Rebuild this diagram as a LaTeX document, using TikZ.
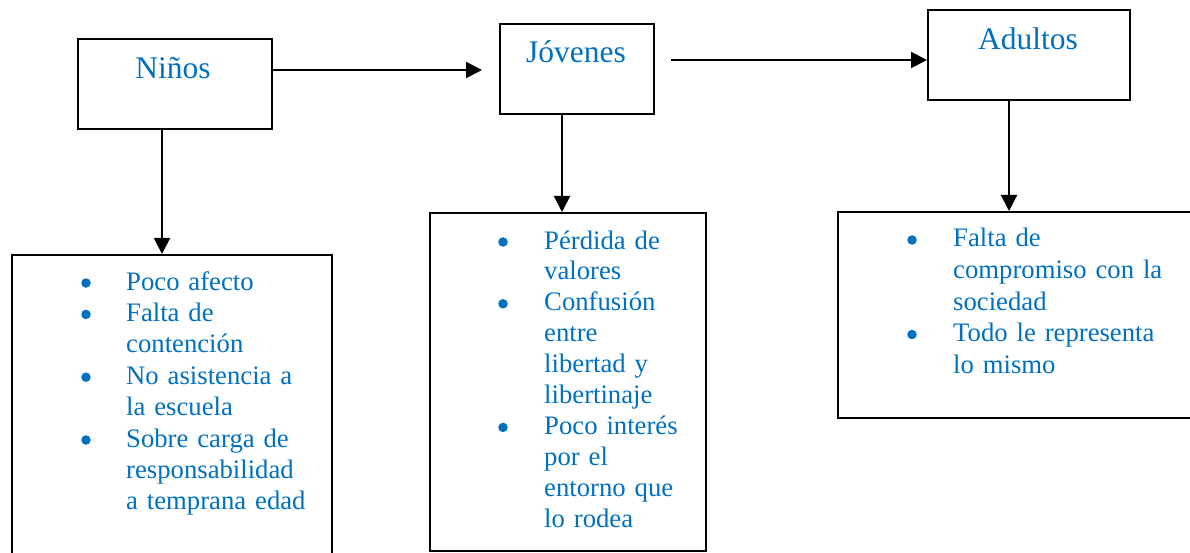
\documentclass[tikz,border=0pt]{standalone}
\usepackage{fontspec}
\setmainfont{Liberation Serif}
\usetikzlibrary{arrows.meta}
\definecolor{wordblue}{HTML}{0070C0}
\begin{document}
\begin{tikzpicture}[x=1pt,y=-1pt,
  box/.style={draw=black,line width=2pt,inner sep=0pt,anchor=north west},
  head/.style={text=wordblue,inner sep=0pt,anchor=base,font=\fontsize{31.5}{36}\selectfont},
  itemtxt/.style={text=wordblue,inner sep=0pt,anchor=base west,text width=230pt,align=left},
  bul/.style={circle,fill=wordblue,inner sep=0pt,minimum size=9.5pt},
  conn/.style={line width=2pt,-{Triangle[length=16pt,width=16pt]}}]
\useasboundingbox (0,0) rectangle (1190,553);
\clip (0,0) rectangle (1190,553);
\fill[white] (0,0) rectangle (1190,553);

% heading boxes
\node[box,minimum width=194pt,minimum height=90pt] (ninos) at (77,38) {};
\node[box,minimum width=154pt,minimum height=90pt] (jovenes) at (499,23) {};
\node[box,minimum width=202pt,minimum height=90pt] (adultos) at (927,9) {};
\node[head] (tninos) at (173,79) {Niños};
\node[head] (tjovenes) at (576,63) {Jóvenes};
\node[head] (tadultos) at (1028,50) {Adultos};

% list boxes
\node[box,minimum width=320pt,minimum height=330pt] (lbox) at (11,254) {};
\node[box,minimum width=276pt,minimum height=338pt] (mbox) at (429,212) {};
\node[box,minimum width=370pt,minimum height=206pt] (rbox) at (837,211) {};

% connectors
\coordinate (a1e) at (482,70);
\coordinate (a2s) at (671,60);
\coordinate (c1) at (162,0);
\coordinate (c2) at (562,0);
\coordinate (c3) at (1009,0);
\draw[conn] (ninos.east |- a1e) -- (a1e);
\draw[conn] (a2s) -- (adultos.west |- a2s);
\draw[conn] (ninos.south -| c1) -- (lbox.north -| c1);
\draw[conn] (jovenes.south -| c2) -- (mbox.north -| c2);
\draw[conn] (adultos.south -| c3) -- (rbox.north -| c3);

% left list
\begin{scope}[every node/.append style={font=\fontsize{26.7}{31.4}\selectfont}]
\node[bul] (lb1) at (86,283) {};
\node[itemtxt] (li1) at (126,290) {Poco afecto};
\node[bul] (lb2) at (86,314.4) {};
\node[itemtxt] (li2) at (126,321.4) {Falta de\\contención};
\node[bul] (lb3) at (86,377.2) {};
\node[itemtxt] (li3) at (126,384.2) {No asistencia a\\la escuela};
\node[bul] (lb4) at (86,440) {};
\node[itemtxt] (li4) at (126,447) {Sobre carga de\\responsabilidad\\a temprana edad};
\end{scope}

% middle list
\begin{scope}[every node/.append style={font=\fontsize{26.7}{30.9}\selectfont}]
\node[bul] (mb1) at (503,242) {};
\node[itemtxt] (mi1) at (544,249) {Pérdida de\\valores};
\node[bul] (mb2) at (503,303.8) {};
\node[itemtxt] (mi2) at (544,310.8) {Confusión\\entre\\libertad y\\libertinaje};
\node[bul] (mb3) at (503,427.4) {};
\node[itemtxt] (mi3) at (544,434.4) {Poco interés\\por el\\entorno que\\lo rodea};
\end{scope}

% right list
\begin{scope}[every node/.append style={font=\fontsize{26.7}{31.5}\selectfont}]
\node[bul] (rb1) at (912,240) {};
\node[itemtxt] (ri1) at (953,247) {Falta de\\compromiso con la\\sociedad};
\node[bul] (rb2) at (912,334.5) {};
\node[itemtxt] (ri2) at (953,341.5) {Todo le representa\\lo mismo};
\end{scope}
\end{tikzpicture}
\end{document}
